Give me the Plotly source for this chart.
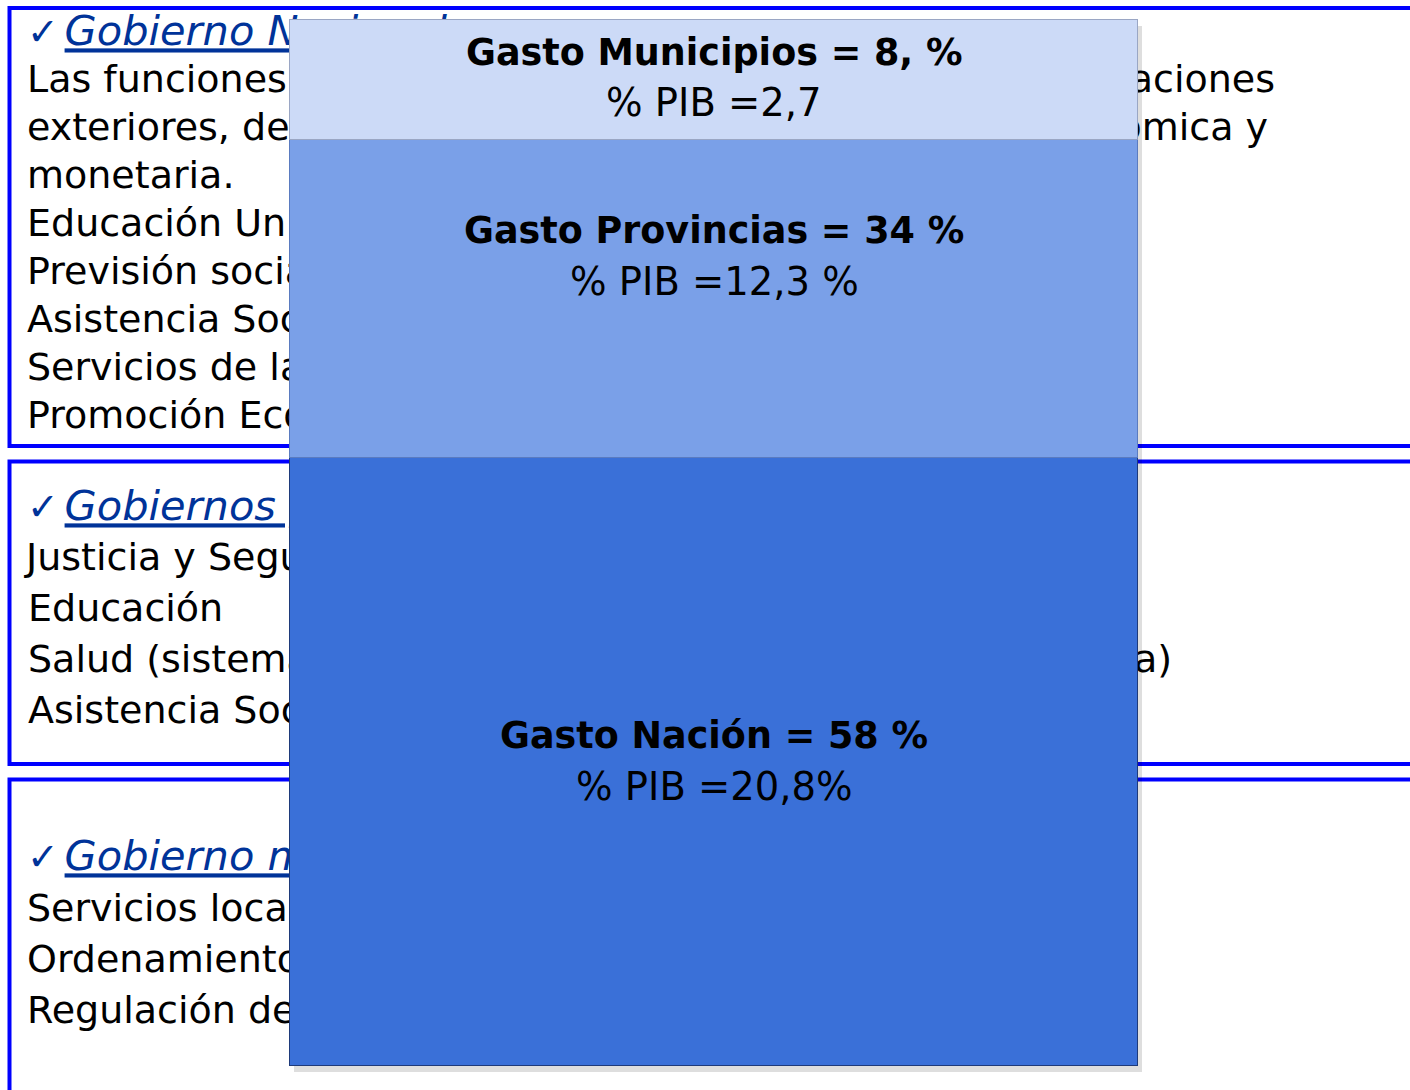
import plotly.graph_objects as go

# ---------------- data ----------------
niveles = ["Nación", "Provincias", "Municipios"]
gasto_pct = [58, 34, 8]
titulos = ["Gasto Nación = 58 %", "Gasto Provincias = 34 %", "Gasto Municipios = 8, %"]
pib_txt = ["% PIB =20,8%", "% PIB =12,3 %", "% PIB =2,7"]
# drawn extent of each segment (share of the column)
altura_segmento = [58.1, 30.4, 11.5]
categoria = ["Gasto"]

bloque1_titulo = "Gobierno Nacional"
bloque1_izq = ["Las funciones del Estado", "exteriores, defensa, política", "monetaria.",
               "Educación Universitaria", "Previsión social", "Asistencia Social",
               "Servicios de la deuda", "Promoción Económica"]
bloque1_der = ["Relaciones", "económica y"]
bloque2_titulo = "Gobiernos provinciales"
bloque2_izq = ["Justicia y Seguridad", "Educación", "Salud (sistema público", "Asistencia Social"]
bloque2_der = ["salud pública)"]
bloque3_titulo = "Gobierno municipal"
bloque3_izq = ["Servicios locales", "Ordenamiento urbano", "Regulación de"]

# ---------------- layout constants (pixels) ----------------
W, H = 1410, 1090
BAR_L, BAR_R, BAR_T, BAR_B = 290, 1138, 20, 1066
FONT = "DejaVu Sans"
BODY = 38
HDR_COLOR = "#003399"
colores = ["#3A70D8", "#7AA0E8", "#CCDAF7"]
bordes = ["#1E3A7A", "#5A7BC0", "#9AA6C4"]

fig = go.Figure()

def add_lines(xs, ys, texts, pos):
    fig.add_trace(go.Scatter(x=xs, y=ys, text=texts, mode="text", textposition=pos,
                             textfont=dict(family=FONT, size=BODY, color="black"),
                             hoverinfo="skip", showlegend=False, xaxis="x", yaxis="y",
                             cliponaxis=False))

def header(txt):
    return ("<span style='font-size:38px'>✓</span><span style='font-size:18px'> </span>"
            "<i><u>" + txt + "</u></i>")

# headers
fig.add_trace(go.Scatter(x=[27, 27, 27], y=[35, 510, 860],
                         text=[header(bloque1_titulo), header(bloque2_titulo), header(bloque3_titulo)],
                         mode="text", textposition="middle right",
                         textfont=dict(family=FONT, size=41.5, color=HDR_COLOR),
                         hoverinfo="skip", showlegend=False, xaxis="x", yaxis="y", cliponaxis=False))

y1 = [82 + 48 * i for i in range(len(bloque1_izq))]
add_lines([27] * len(bloque1_izq), y1, bloque1_izq, "middle right")
add_lines([1275, 1268], y1[:2], bloque1_der, "middle left")
y2 = [560 + 51 * i for i in range(len(bloque2_izq))]
add_lines([26, 28, 28, 28], y2, bloque2_izq, "middle right")
add_lines([1172], [y2[2]], bloque2_der, "middle left")
y3 = [911 + 51 * i for i in range(len(bloque3_izq))]
add_lines([27] * len(bloque3_izq), y3, bloque3_izq, "middle right")

# box frames
for (t, b) in [(8, 446), (461.5, 764), (779.5, 1120)]:
    fig.add_shape(type="rect", xref="x", yref="y", x0=9.5, x1=W + 20, y0=t, y1=b,
                  line=dict(color="#0000FF", width=4), fillcolor="rgba(0,0,0,0)", layer="below")

# axis ranges mapping the stacked column onto its pixel rectangle
total = sum(altura_segmento)
def xr(shift=0):
    unit = (BAR_R - BAR_L)
    a = -0.5 - (BAR_L + shift) / unit
    return [a, a + W / unit]
def yr(shift=0):
    unit = (BAR_B - BAR_T) / total
    lo = -(H - BAR_B - shift) / unit
    return [lo, lo + H / unit]

# soft shadow column
fig.add_trace(go.Bar(x=categoria, y=[total], xaxis="x2", yaxis="y2", width=1,
                     marker=dict(color="rgba(0,0,0,0.13)", line=dict(width=0)),
                     hoverinfo="skip", showlegend=False))
# stacked column
for i, n in enumerate(niveles):
    fig.add_trace(go.Bar(x=categoria, y=[altura_segmento[i]], name=n, xaxis="x3", yaxis="y3",
                         width=1, marker=dict(color=colores[i], line=dict(color=bordes[i], width=1.5)),
                         hoverinfo="skip", showlegend=False))

# segment labels
label_shift = [(27, -24), (69, 18), (28, -22)]
base = 0
for i in range(len(niveles)):
    mid = base + altura_segmento[i] / 2
    base += altura_segmento[i]
    fig.add_annotation(x=0, y=mid, xref="x3", yref="y3", text="<b>" + titulos[i] + "</b>",
                       showarrow=False, yshift=label_shift[i][0],
                       font=dict(family=FONT, size=36.5, color="black"))
    fig.add_annotation(x=0, y=mid, xref="x3", yref="y3", text=pib_txt[i],
                       showarrow=False, yshift=label_shift[i][1],
                       font=dict(family=FONT, size=38.5, color="black"))

hidden = dict(visible=False, showgrid=False, zeroline=False, fixedrange=True)
fig.update_layout(
    width=W, height=H, margin=dict(l=0, r=0, t=0, b=0),
    paper_bgcolor="white", plot_bgcolor="white",
    barmode="stack", bargap=0,
    xaxis=dict(range=[0, W], **hidden),
    yaxis=dict(range=[H, 0], **hidden),
    xaxis2=dict(overlaying="x", range=xr(4), type="category", **hidden),
    yaxis2=dict(overlaying="y", range=yr(6), **hidden),
    xaxis3=dict(overlaying="x", range=xr(0), type="category", **hidden),
    yaxis3=dict(overlaying="y", range=yr(0), **hidden),
)

fig.write_html("out.html", config={"displayModeBar": False},
               post_script="document.body.style.margin='0';document.body.style.overflow='hidden';")
